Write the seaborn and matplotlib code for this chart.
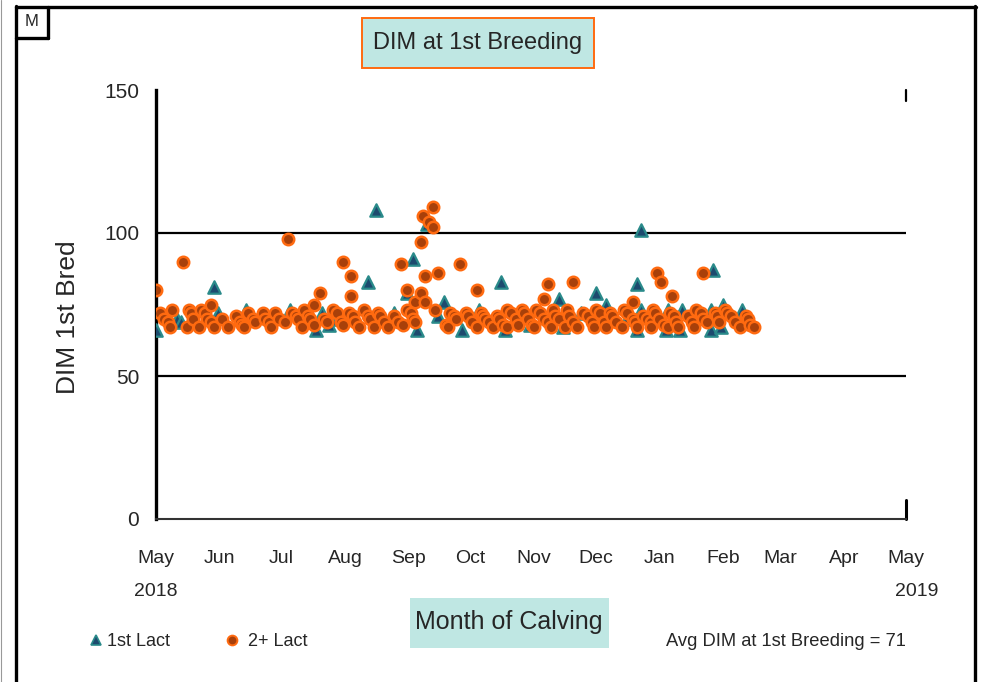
import matplotlib
matplotlib.use("Agg")
import matplotlib.pyplot as plt
import matplotlib.dates as mdates
from matplotlib.lines import Line2D
from matplotlib.patches import Rectangle
import pandas as pd
import seaborn as sns

# calving dates are stored as days after 1 May 2018
start = pd.Timestamp("2018-05-01")
end = pd.Timestamp("2019-05-01")

# 1st lactation cows
first_days = [0, 10, 12, 28, 30, 44, 65, 78, 81, 84, 88, 103, 107, 116, 122,
              125, 127, 132, 137, 140, 149, 157, 168, 170, 182, 196, 198, 207,
              214, 219, 229, 234, 234, 236, 236, 248, 249, 255, 256, 270, 270,
              271, 275, 276, 285]
first_dim = [66, 70, 69, 81, 72, 73, 73, 66, 72, 68, 70, 83, 108, 72, 79,
             91, 66, 103, 71, 76, 66, 73, 83, 66, 68, 77, 67, 72,
             79, 75, 70, 82, 66, 101, 73, 66, 73, 66, 73, 73, 66,
             87, 67, 75, 73]

# 2+ lactation cows
second_days = [0, 2, 4, 6, 7, 8, 13, 15, 16, 17, 18, 21, 22, 24, 25, 27, 27, 28,
               32, 35, 39, 41, 42, 43, 45, 47, 48, 52, 53, 55, 56, 58, 60, 63,
               64, 66, 68, 69, 71, 72, 74, 75, 77, 77, 80, 82, 83, 86, 88, 90,
               91, 91, 94, 95, 95, 96, 97, 99, 101, 103, 104, 106, 108, 109,
               111, 113, 116, 118, 119, 120, 122, 122, 124, 125, 126, 126, 129,
               129, 130, 131, 131, 133, 135, 135, 136, 137, 141, 142, 143, 145,
               146, 148, 151, 152, 154, 156, 156, 158, 159, 160, 162, 164, 166,
               167, 169, 171, 171, 173, 175, 176, 178, 179, 181, 183, 184, 185,
               187, 189, 189, 191, 191, 192, 193, 194, 196, 199, 200, 201, 203,
               203, 205, 208, 210, 212, 213, 214, 216, 218, 219, 221, 222, 224,
               227, 228, 229, 232, 232, 233, 234, 237, 239, 241, 241, 242, 243,
               244, 245, 246, 247, 249, 250, 251, 252, 253, 254, 259, 261, 262,
               263, 265, 266, 266, 268, 272, 273, 274, 277, 278, 280, 282, 284,
               287, 288, 289, 291]
second_dim = [80, 72, 70, 69, 67, 73, 90, 67, 73, 72, 70, 67, 73, 72, 70, 69, 75, 67,
              70, 67, 71, 69, 68, 67, 72, 70, 69, 72, 70, 69, 67, 72, 70, 69,
              98, 72, 71, 70, 67, 73, 71, 70, 68, 75, 79, 70, 69, 73, 72, 69,
              90, 68, 72, 85, 78, 71, 69, 67, 73, 71, 70, 67, 72, 71,
              69, 67, 71, 69, 89, 68, 80, 73, 72, 70, 76, 69, 97,
              79, 106, 85, 76, 104, 109, 102, 73, 86, 68, 67, 72, 71,
              70, 89, 72, 71, 69, 67, 80, 72, 71, 70, 69, 67, 71,
              70, 68, 67, 73, 72, 70, 68, 73, 72, 70, 68, 67, 73,
              72, 77, 70, 82, 69, 67, 73, 71, 70, 67, 73, 71, 83,
              69, 67, 72, 71, 69, 67, 73, 72, 69, 67, 72, 71, 69,
              67, 73, 72, 70, 76, 69, 67, 71, 70, 69, 67, 73, 72,
              86, 70, 83, 68, 67, 72, 78, 71, 69, 67, 71, 69, 67,
              73, 72, 86, 70, 69, 72, 71, 69, 73, 72, 71, 69, 67,
              71, 70, 68, 67]

avg_dim = 71
y_ticks = [0, 50, 100, 150]
grid_levels = [50, 100]

first = pd.DataFrame({"date": start + pd.to_timedelta(first_days, unit="D"),
                      "dim": first_dim})
second = pd.DataFrame({"date": start + pd.to_timedelta(second_days, unit="D"),
                       "dim": second_dim})

sns.set_style("white")
plt.rcParams["font.family"] = ["Liberation Sans", "DejaVu Sans"]

teal_edge = "#2a8a8a"
navy_face = "#1d4a6e"
orange_edge = "#ff6a10"
brown_face = "#a8400a"
cyan_box = "#bfe7e3"

fig = plt.figure(figsize=(9.87, 6.82), dpi=100)
W, H = 987.0, 682.0
ax = fig.add_axes([156 / W, 1 - 519 / H, 750 / W, 429 / H])

sns.scatterplot(data=first, x="date", y="dim", marker="^", s=80,
                color=navy_face, edgecolor=teal_edge, linewidth=1.6,
                ax=ax, zorder=3, legend=False)
sns.scatterplot(data=second, x="date", y="dim", marker="o", s=68,
                color=brown_face, edgecolor=orange_edge, linewidth=1.8,
                ax=ax, zorder=4, legend=False)

for lvl in grid_levels:
    ax.axhline(lvl, color="black", lw=1.6, zorder=1)

ax.set_xlim(start, end)
ax.set_ylim(0, 150)
ax.set_yticks(y_ticks)
ax.xaxis.set_major_locator(mdates.MonthLocator())
ax.xaxis.set_major_formatter(mdates.DateFormatter("%b"))
ax.tick_params(axis="x", direction="out", length=7, width=1.5, color="black",
               labelsize=14, pad=15)
ax.tick_params(axis="y", length=0, labelsize=15, pad=12)
ax.set_xlabel("")
ax.set_ylabel("")

for side in ["top", "right"]:
    ax.spines[side].set_visible(False)
ax.spines["left"].set_linewidth(2.4)
ax.spines["left"].set_color("black")
ax.spines["bottom"].set_linewidth(1.5)
ax.spines["bottom"].set_color("#333333")

# short right-hand axis stubs at top and bottom
ax.add_line(Line2D([1, 1], [0, 0.045], transform=ax.transAxes, color="black",
                   lw=2.2, clip_on=False))
ax.add_line(Line2D([1, 1], [0.975, 1.0], transform=ax.transAxes, color="black",
                   lw=1.6, clip_on=False))

ax.text(0.0, -0.1680, "2018", transform=ax.transAxes, ha="center", va="center",
        fontsize=14)
ax.text(1.0147, -0.1680, "2019", transform=ax.transAxes, ha="center", va="center",
        fontsize=14)


def fx(px):
    return px / W


def fy(py):
    return 1 - py / H


# outer frame
fig.add_artist(Line2D([fx(16), fx(16)], [fy(6), fy(682)], color="black", lw=2.4))
fig.add_artist(Line2D([fx(16), fx(976)], [fy(7), fy(7)], color="black", lw=2.4))
fig.add_artist(Line2D([fx(975), fx(975)], [fy(6), fy(682)], color="black", lw=2.4))
fig.add_artist(Line2D([fx(1), fx(1)], [fy(0), fy(682)], color="#999999", lw=0.8))
fig.add_artist(Line2D([fx(48), fx(48)], [fy(7), fy(38)], color="black", lw=2.4))
fig.add_artist(Line2D([fx(16), fx(48)], [fy(38), fy(38)], color="black", lw=2.4))
fig.text(fx(32), fy(21), "M", ha="center", va="center", fontsize=12)

# title box
fig.add_artist(Rectangle((fx(362), fy(68)), (594 - 362) / W, 50 / H,
                         transform=fig.transFigure, facecolor=cyan_box,
                         edgecolor="#ff6a10", lw=1.4))
fig.text(fx(478), fy(43), "DIM at 1st Breeding", ha="center", va="center",
         fontsize=17)

# y label
fig.text(fx(68), fy(317), "DIM 1st Bred", rotation=90, ha="center", va="center",
         fontsize=19)

# x label box
fig.add_artist(Rectangle((fx(410), fy(648)), (609 - 410) / W, 50 / H,
                         transform=fig.transFigure, facecolor=cyan_box,
                         edgecolor="none"))
fig.text(fx(509), fy(622), "Month of Calving", ha="center", va="center",
         fontsize=18)

# legend
fig.add_artist(Line2D([fx(96)], [fy(640)], marker="^", markersize=7,
                      markerfacecolor=navy_face, markeredgecolor=teal_edge,
                      markeredgewidth=1.2, linestyle="none"))
fig.text(fx(107), fy(641), "1st Lact", ha="left", va="center", fontsize=13)
fig.add_artist(Line2D([fx(232)], [fy(640)], marker="o", markersize=7,
                      markerfacecolor=brown_face, markeredgecolor=orange_edge,
                      markeredgewidth=1.4, linestyle="none"))
fig.text(fx(248), fy(641), "2+ Lact", ha="left", va="center", fontsize=13)

fig.text(fx(666), fy(642), f"Avg DIM at 1st Breeding = {avg_dim}", ha="left",
         va="center", fontsize=13.2)

fig.savefig("out.png", dpi=100)
